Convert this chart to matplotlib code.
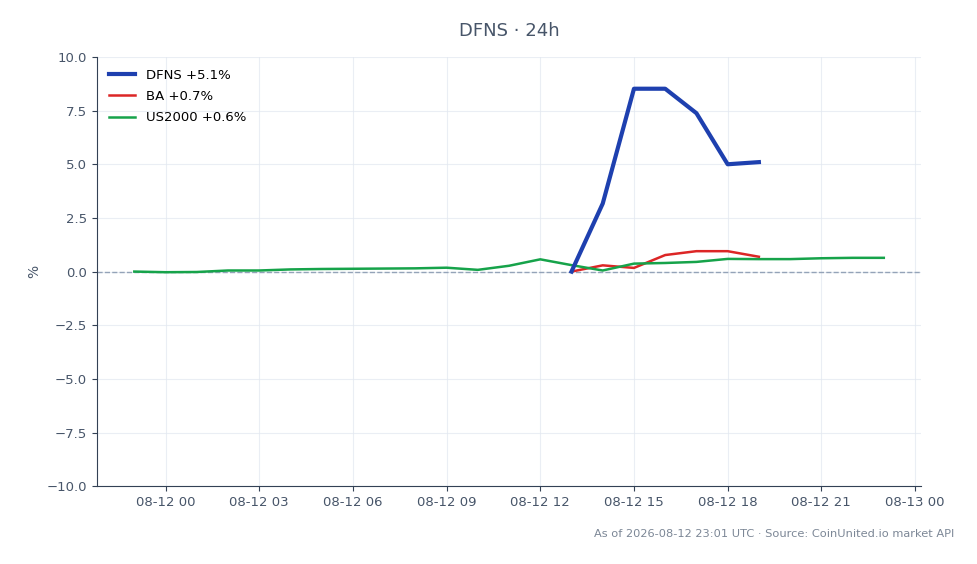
import matplotlib
matplotlib.use('Agg')
import matplotlib.pyplot as plt
import matplotlib.dates as mdates
import pandas as pd

# hourly % change, 24h window
us2000_times = pd.date_range('2026-08-11 23:00', '2026-08-12 23:00', freq='h')
us2000_vals = [0.00, -0.03, -0.02, 0.05, 0.05, 0.10, 0.12, 0.13, 0.14, 0.15,
               0.18, 0.08, 0.27, 0.57, 0.30, 0.05, 0.37, 0.40, 0.45, 0.59,
               0.58, 0.58, 0.62, 0.64, 0.64]

pair_times = pd.date_range('2026-08-12 13:00', '2026-08-12 19:00', freq='h')
dfns_vals = [0.0, 3.17, 8.52, 8.52, 7.38, 5.0, 5.1]
ba_vals = [0.0, 0.29, 0.17, 0.77, 0.95, 0.95, 0.69]

text_color = '#475569'
grid_color = '#e2e8f0'

fig = plt.figure(figsize=(9.78, 5.64), dpi=100)
ax = fig.add_axes([0.099, 0.138, 0.843, 0.761])

ax.axhline(0, color='#94a3b8', linestyle='--', linewidth=1, zorder=1)
ax.plot(pair_times, dfns_vals, color='#1e40af', linewidth=3, label='DFNS +5.1%', zorder=4)
ax.plot(pair_times, ba_vals, color='#dc2626', linewidth=1.8, label='BA +0.7%', zorder=3)
ax.plot(us2000_times, us2000_vals, color='#16a34a', linewidth=1.8, label='US2000 +0.6%', zorder=3)

ax.set_ylim(-10, 10)
ax.set_title('DFNS · 24h', fontsize=13, color=text_color, pad=15)
ax.set_ylabel('%', fontsize=10, color=text_color)

ax.xaxis.set_major_locator(mdates.HourLocator(byhour=range(0, 24, 3)))
ax.xaxis.set_major_formatter(mdates.DateFormatter('%m-%d %H'))

ax.grid(True, color=grid_color, linewidth=0.8, alpha=0.7)
ax.set_axisbelow(True)
for side in ['top', 'right']:
    ax.spines[side].set_visible(False)
for side in ['left', 'bottom']:
    ax.spines[side].set_color('#334155')
ax.tick_params(colors='#334155', labelcolor=text_color, labelsize=9.5)

ax.legend(loc='upper left', frameon=False, fontsize=9.5, labelspacing=0.62)

fig.text(0.976, 0.054, 'As of 2026-08-12 23:01 UTC · Source: CoinUnited.io market API',
         ha='right', va='center', fontsize=8.2, color='#7c8796')

plt.savefig('out.png', dpi=100)
plt.close()
